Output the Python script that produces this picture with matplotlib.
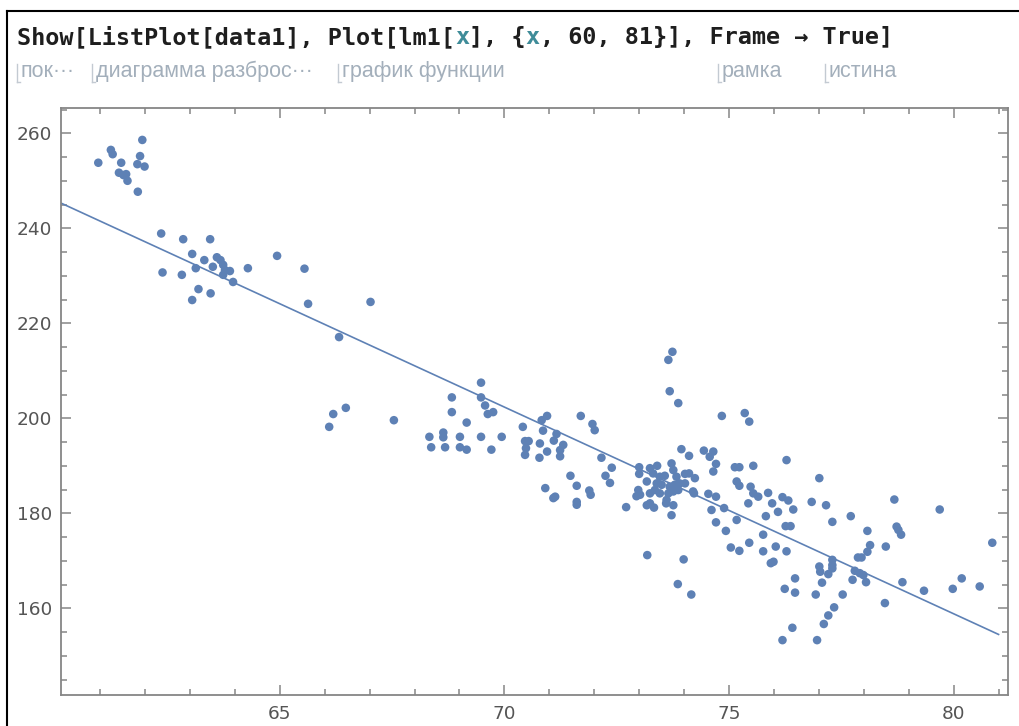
import numpy as np
import matplotlib
matplotlib.use("Agg")
import matplotlib.pyplot as plt
from matplotlib.lines import Line2D

# ---------------- data ----------------
x_vals = [
    60.96, 61.24, 61.28, 61.47, 61.42, 61.52, 61.58, 61.61, 61.84, 61.83, 61.89, 61.94, 61.99,
    62.36, 62.85, 63.45, 63.05, 63.32, 63.13, 63.51, 63.60, 63.68, 63.74, 63.78, 63.74, 63.89,
    63.96, 64.29, 64.94, 65.55, 62.39, 62.82, 63.19, 63.46, 63.05, 65.63,
    67.02, 66.32, 69.48, 68.83, 69.48, 69.57, 69.63, 69.75, 68.83, 69.16, 66.19, 66.47, 66.10,
    67.54, 68.33, 68.64, 68.64, 69.01, 69.48, 69.94, 68.37, 68.68, 69.01, 69.16, 69.71, 70.41,
    70.83, 70.95, 70.86, 71.16, 70.46, 70.54, 70.79, 70.48, 70.46, 70.78, 70.95,
    71.10, 71.31, 71.24, 71.24, 73.74, 73.65, 73.68, 73.87, 71.70, 71.96, 72.01, 72.16, 72.39,
    71.47, 72.25, 72.35, 71.61, 71.89, 71.92, 70.91, 71.09, 71.13, 71.61, 71.61, 72.71, 74.84,
    75.35, 75.45, 73.94, 74.11, 74.44, 74.65, 74.57, 74.71, 74.65, 75.13, 75.23, 75.54, 75.17,
    75.23, 75.48, 75.54, 75.65, 75.43, 74.22, 74.54, 74.71, 74.61, 74.89, 74.71, 75.17, 74.93,
    75.45, 75.04, 75.23, 73.18, 73.99,
    73.00, 73.00, 73.24, 73.40, 73.31, 73.46, 73.57, 73.72, 73.76, 73.83, 74.02, 74.11, 74.24,
    73.17, 73.39, 73.50, 72.98, 73.02, 73.24, 73.35, 73.46, 73.68, 73.79, 73.90, 74.02, 73.65,
    73.76, 73.87, 74.20, 73.61, 73.24, 73.17, 73.33, 73.76, 73.60, 73.72, 72.94,
    76.28, 77.01, 75.87, 76.19, 76.32, 75.96, 76.43, 76.09, 76.84, 77.16, 75.82, 76.26, 76.37,
    77.30, 77.71, 78.68, 79.69, 75.76, 76.04, 76.28, 75.76, 78.08, 78.73, 78.77, 78.83, 78.14,
    78.08, 78.49, 80.86,
    75.93, 75.99, 76.47, 76.24, 76.47, 73.86, 74.16, 76.19, 76.41, 76.96, 77.11, 77.21, 77.34,
    77.53, 76.93, 77.07, 77.01, 77.03, 77.21, 77.30, 77.30, 77.30, 77.75, 77.80, 77.91, 77.99,
    78.05, 77.87, 77.95, 78.47, 78.86, 79.34, 79.98, 80.18, 80.58,
]
y_vals = [
    253.8, 256.5, 255.6, 253.8, 251.7, 251.2, 251.4, 250.0, 247.7, 253.5, 255.2, 258.6, 253.0,
    238.9, 237.7, 237.7, 234.6, 233.3, 231.6, 231.9, 233.9, 233.3, 232.3, 231.2, 230.2, 231.0,
    228.7, 231.6, 234.2, 231.5, 230.7, 230.2, 227.2, 226.3, 224.9, 224.1,
    224.5, 217.1, 207.5, 204.4, 204.4, 202.7, 200.9, 201.3, 201.3, 199.1, 200.9, 202.2, 198.2,
    199.6, 196.1, 197.0, 196.0, 196.1, 196.1, 196.1, 193.9, 193.9, 193.9, 193.4, 193.4, 198.2,
    199.6, 200.5, 197.4, 196.7, 195.2, 195.2, 194.7, 193.7, 192.3, 191.7, 193.0,
    195.3, 194.4, 193.3, 192.0, 214.0, 212.3, 205.7, 203.2, 200.5, 198.8, 197.5, 191.7, 189.6,
    187.9, 187.9, 186.4, 185.8, 184.8, 183.9, 185.3, 183.2, 183.5, 182.4, 181.8, 181.3, 200.5,
    201.1, 199.3, 193.5, 192.1, 193.2, 193.0, 191.9, 190.4, 188.8, 189.7, 189.7, 190.0, 186.7,
    185.8, 185.6, 184.2, 183.5, 182.1, 184.2, 184.1, 183.5, 180.7, 181.1, 178.1, 178.6, 176.3,
    173.8, 172.8, 172.1, 171.2, 170.3,
    189.7, 188.3, 189.5, 190.0, 188.4, 187.7, 187.9, 190.5, 189.1, 187.7, 188.3, 188.4, 187.4,
    186.7, 186.3, 186.0, 184.9, 183.9, 184.2, 184.9, 184.2, 185.6, 186.0, 186.3, 186.3, 184.2,
    184.6, 184.9, 184.6, 182.8, 182.1, 181.7, 181.2, 181.7, 182.1, 179.6, 183.6,
    191.2, 187.4, 184.3, 183.4, 182.7, 182.1, 180.8, 180.3, 182.4, 181.7, 179.4, 177.3, 177.3,
    178.2, 179.4, 182.9, 180.8, 175.5, 173.0, 172.0, 172.0, 176.3, 177.2, 176.5, 175.5, 173.3,
    171.9, 173.0, 173.8,
    169.5, 169.8, 166.3, 164.1, 163.3, 165.1, 162.9, 153.3, 155.9, 153.3, 156.7, 158.5, 160.2,
    162.9, 162.9, 165.4, 168.8, 167.7, 167.2, 170.2, 169.1, 168.4, 166.0, 167.9, 167.4, 167.0,
    165.5, 170.7, 170.7, 161.1, 165.5, 163.7, 164.1, 166.3, 164.6,
]

# fitted model lm1(x) = a + b*x, plotted on {x, 60, 81}
lm_intercept = 506.93
lm_slope = -4.351
line_range = [60, 81]

x_major = [65, 70, 75, 80]
y_major = [160, 180, 200, 220, 240, 260]

header_parts = [
    ("Show[ListPlot[data1], Plot[lm1[", "#1e1e1e"),
    ("x", "#3f8c99"),
    ("], {", "#1e1e1e"),
    ("x", "#3f8c99"),
    (", 60, 81}], Frame \u2192 True]", "#1e1e1e"),
]
sub_labels = ["пок\u00b7\u00b7\u00b7", "диаграмма разброс\u00b7\u00b7\u00b7", "график функции",
              "рамка", "истина"]
sub_x_px = [17, 92, 338, 718, 825]

# ---------------- figure ----------------
W, H = 1020, 726
fig = plt.figure(figsize=(W / 100, H / 100), dpi=100)
fig.patch.set_facecolor("white")

ax = fig.add_axes([61 / W, (H - 695) / H, 947 / W, 586.7 / H])
pt_color = "#5e81b5"
ax.scatter(x_vals, y_vals, s=38, color=pt_color, edgecolors="none", zorder=3)

xs = np.linspace(line_range[0], line_range[1], 200)
ax.plot(xs, lm_intercept + lm_slope * xs, color=pt_color, lw=1.2, zorder=2)

ax.set_xlim(60.13, 81.21)
ax.set_ylim(141.75, 265.26)
ax.set_xticks(x_major)
ax.set_yticks(y_major)
ax.set_xticks(np.arange(61, 82, 1), minor=True)
ax.set_yticks(np.arange(145, 266, 5), minor=True)

frame_col = "#868686"
for sp in ax.spines.values():
    sp.set_color(frame_col)
    sp.set_linewidth(1.3)
ax.tick_params(which="both", direction="in", top=True, right=True,
               labeltop=False, labelright=False, color=frame_col, width=1.1,
               labelcolor="#555555", labelsize=13.3)
ax.tick_params(which="major", length=7)
ax.tick_params(which="minor", length=4.5)
ax.tick_params(axis="x", which="major", pad=7)
ax.tick_params(axis="y", which="major", pad=6.5)
for lab in ax.get_xticklabels() + ax.get_yticklabels():
    lab.set_family("DejaVu Sans")

# outer screenshot border
fig.add_artist(Line2D([7 / W, 7 / W], [0, 1 - 10.7 / H], transform=fig.transFigure,
                      color="black", lw=1.5))
fig.add_artist(Line2D([7 / W, 1], [1 - 10.7 / H, 1 - 10.7 / H], transform=fig.transFigure,
                      color="black", lw=1.5))

# header (input line)
renderer = fig.canvas.get_renderer()
xpos = 17.3
for txt, col in header_parts:
    t = fig.text(xpos / W, 1 - 44.3 / H, txt, color=col, fontsize=16.9,
                 fontweight="bold", family=["DejaVu Sans Mono"], va="baseline", ha="left")
    bb = t.get_window_extent(renderer=renderer)
    xpos += bb.width

# sub-labels with small bracket marks
sub_col = "#a3afbb"
for lab, px in zip(sub_labels, sub_x_px):
    fig.add_artist(Line2D([px / W, px / W], [1 - 64 / H, 1 - 82 / H],
                          transform=fig.transFigure, color="#c3cad2", lw=1.0))
    fig.add_artist(Line2D([px / W, (px + 3) / W], [1 - 82 / H, 1 - 82 / H],
                          transform=fig.transFigure, color="#c3cad2", lw=1.0))
    fig.text((px + 4) / W, 1 - 77 / H, lab, color=sub_col, fontsize=15.5,
             family=["Liberation Sans", "DejaVu Sans"], va="baseline", ha="left")

fig.savefig("out.png", dpi=100, facecolor="white")
